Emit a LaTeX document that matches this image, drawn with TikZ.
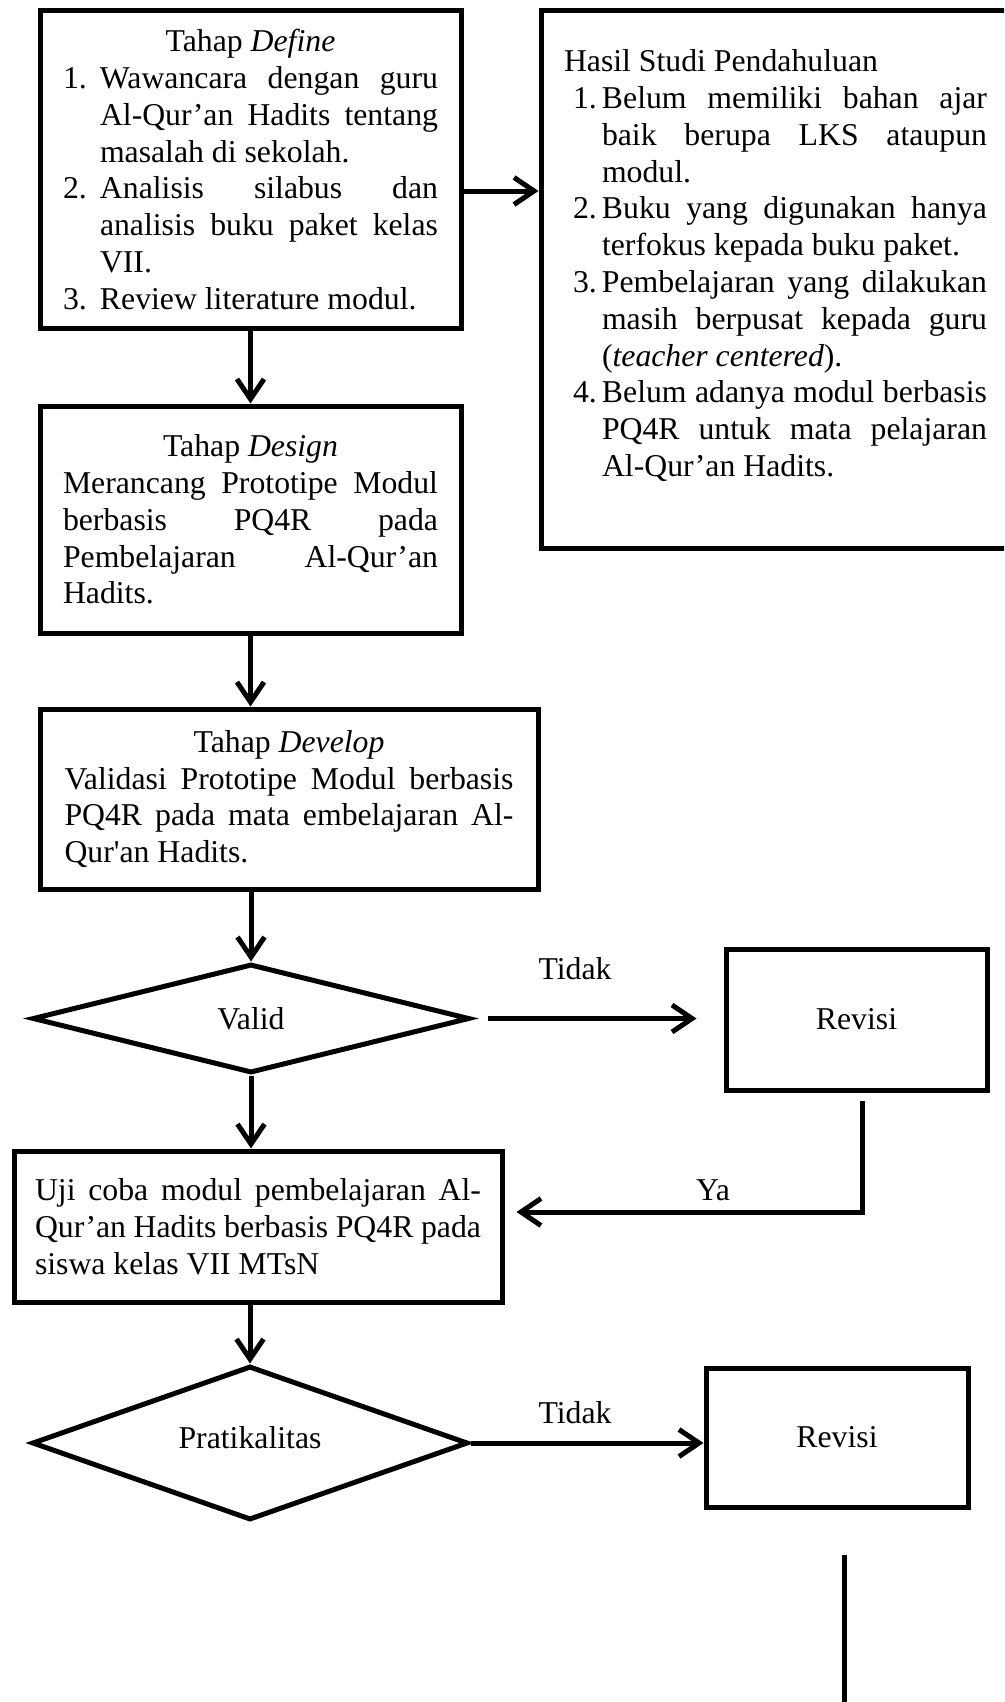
\documentclass[tikz,border=0pt]{standalone}
\usepackage{fontspec}
\setmainfont{Liberation Serif}
\usetikzlibrary{shapes.geometric,arrows.meta,calc}
\newcommand\jline[2]{\makebox[#1][s]{#2}}
\tikzset{
  base/.style={font=\fontsize{31.75pt}{36.8pt}\selectfont},
  box/.style={base, draw, line width=5pt, rectangle, inner sep=0pt, align=left},
  dia/.style={base, draw, line width=5pt, diamond, inner sep=0pt},
  arr/.style={line width=5pt, -{Straight Barb[length=20pt,width=27pt]}},
  conn/.style={line width=5pt},
  lbl/.style={base, inner sep=0pt},
}
\begin{document}
\begin{tikzpicture}[x=1pt,y=-1pt]
\useasboundingbox (0,0) rectangle (1004,1702);
\clip (0,0) rectangle (1004,1702);

\node[box, minimum width=421pt, minimum height=317pt] (def) at (250.5,169.5) {%
\makebox[375pt][c]{Tahap \textit{Define}}\\
\makebox[37pt][l]{1.}\jline{338pt}{Wawancara dengan guru}\\
\hspace*{37pt}\jline{338pt}{Al-Qur’an Hadits tentang}\\
\hspace*{37pt}masalah di sekolah.\\
\makebox[37pt][l]{2.}\jline{338pt}{Analisis silabus dan}\\
\hspace*{37pt}\jline{338pt}{analisis buku paket kelas}\\
\hspace*{37pt}VII.\\
\makebox[37pt][l]{3.}Review literature modul.};

\node[box, minimum width=469pt, minimum height=537pt] (hasil) at (775.5,279.5) {%
Hasil Studi Pendahuluan\\
\hspace*{9pt}\makebox[29pt][l]{1.}\jline{385pt}{Belum memiliki bahan ajar}\\
\hspace*{38pt}\jline{385pt}{baik berupa LKS ataupun}\\
\hspace*{38pt}modul.\\
\hspace*{9pt}\makebox[29pt][l]{2.}\jline{385pt}{Buku yang digunakan hanya}\\
\hspace*{38pt}terfokus kepada buku paket.\\
\hspace*{9pt}\makebox[29pt][l]{3.}\jline{385pt}{Pembelajaran yang dilakukan}\\
\hspace*{38pt}\jline{385pt}{masih berpusat kepada guru}\\
\hspace*{38pt}(\textit{teacher centered}).\\
\hspace*{9pt}\makebox[29pt][l]{4.}\jline{385pt}{Belum adanya modul berbasis}\\
\hspace*{38pt}\jline{385pt}{PQ4R untuk mata pelajaran}\\
\hspace*{38pt}Al-Qur’an Hadits.\rule[-33pt]{0pt}{33pt}};

\node[box, minimum width=421pt, minimum height=227pt] (des) at (250.5,519.5) {%
\makebox[375pt][c]{Tahap \textit{Design}}\\
\jline{375pt}{Merancang Prototipe Modul}\\
\jline{375pt}{berbasis PQ4R pada}\\
\jline{375pt}{Pembelajaran Al-Qur’an}\\
Hadits.};

\node[box, minimum width=498pt, minimum height=180pt] (dev) at (289,799) {%
\makebox[449pt][c]{Tahap \textit{Develop}}\\
\jline{449pt}{Validasi Prototipe Modul berbasis}\\
\jline{449pt}{PQ4R pada mata embelajaran Al-}\\
Qur\textquotesingle an Hadits.};

\node[dia, aspect=4, minimum width=437pt, minimum height=109pt] (valid) at (251,1018.5) {Valid};
\node[box, minimum width=261pt, minimum height=141pt] (rev1) at (856.5,1019.5) {Revisi};

\node[box, minimum width=488pt, minimum height=151pt] (uji) at (258,1226.5) {%
\jline{446pt}{Uji coba modul pembelajaran Al-}\\
\jline{446pt}{Qur’an Hadits berbasis PQ4R pada}\\
siswa kelas VII MTsN};

\node[dia, aspect=2.83, minimum width=436pt, minimum height=154pt, text depth=12pt] (prat) at (250,1443) {Pratikalitas};
\node[box, minimum width=262pt, minimum height=139pt] (rev2) at (837,1437.5) {Revisi};

% connectors
\draw[arr] (def.south) -- (des.north);
\draw[arr] (def.east) ++(0,21.5) coordinate (dh) -- (dh -| hasil.west);
\draw[arr] (des.south) -- (des.south |- dev.north);
\draw[arr] (valid.north |- dev.south) -- (valid.north);
\draw[arr, shorten <=15.5pt, shorten >=27pt] (valid.east) -- (valid.east -| rev1.west);
\node[lbl] (t1) at (575,969) {Tidak};
\draw[arr] ($(rev1.south)+(5.5,8)$) |- ($(uji.east)+(12,-14.5)$);
\node[lbl] (ya) at (713,1190) {Ya};
\draw[arr] (valid.south) -- (valid.south |- uji.north);
\draw[arr] (prat.north |- uji.south) -- (prat.north);
\draw[arr] (prat.east) -- (prat.east -| rev2.west);
\node[lbl] (t2) at (575,1413) {Tidak};
\coordinate (r2a) at ($(rev2.south)+(7,45)$);
\coordinate (bot) at (844,1712);
\draw[conn] (r2a) -- (bot);
\end{tikzpicture}
\end{document}
